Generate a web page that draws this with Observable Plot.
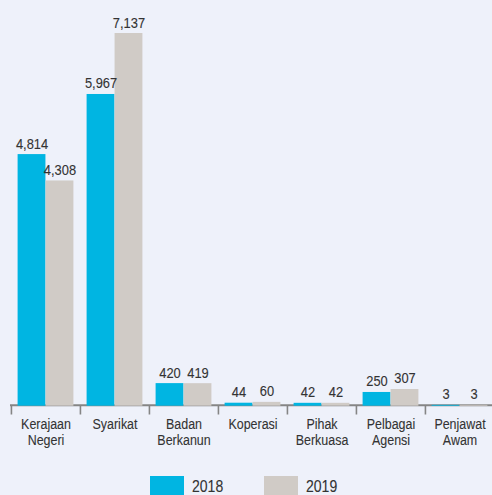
<!DOCTYPE html>
<html><head><meta charset="utf-8">
<script src="https://cdn.jsdelivr.net/npm/d3@7"></script>
<script src="https://cdn.jsdelivr.net/npm/@observablehq/plot@0.6"></script>
<style>
html,body{margin:0;padding:0;background:#eef1fa;overflow:hidden;width:492px;height:495px;position:relative;}
#chart{position:absolute;left:0;top:0;width:492px;height:470px;overflow:hidden;}
#legend{position:absolute;left:0;top:476px;width:492px;height:19px;overflow:hidden;font-family:'Liberation Sans',Arial,sans-serif;color:#333;}
.sw{position:absolute;top:0;width:34px;height:22px;}
.lab{position:absolute;top:2px;font-size:16.5px;line-height:16px;transform:scaleX(0.85);transform-origin:0 0;white-space:nowrap;-webkit-text-stroke:0.1px #333;}
</style>
</head><body>
<div id="chart"></div>
<div id="legend"></div>
<script>
const categories = ["Kerajaan\nNegeri","Syarikat","Badan\nBerkanun","Koperasi","Pihak\nBerkuasa","Pelbagai\nAgensi","Penjawat\nAwam"];
const years = ["2018","2019"];
const values2018 = [4814,5967,420,44,42,250,3];
const values2019 = [4308,7137,419,60,42,307,3];
const colors = ["#00b5e2","#d0cbc6"];

const W = 494, H = 470, ML = 10, MR = 0, MT = 33, MB = 65;
const bw = (W - ML - MR) / categories.length;
const half = bw / 2, pad = 6.6;
const fmt = d3.format(",");
const font = "'Liberation Sans',Arial,sans-serif";
const ink = "#333";
const rows = [values2018, values2019].map(vals => categories.map((c, i) => ({c, v: vals[i]})));

const chart = Plot.plot({
  width: W, height: H, marginLeft: ML, marginRight: MR, marginTop: MT, marginBottom: MB,
  x: {domain: categories, padding: 0, axis: null},
  y: {domain: [0, d3.max([...values2018, ...values2019])], axis: null},
  style: {background: "transparent", maxWidth: "none", fontFamily: font, fontSize: "14px", color: ink, overflow: "visible"},
  marks: [
    Plot.ruleY([0], {stroke: "#858585", strokeWidth: 2, dy: -0.3}),
    Plot.axisX({tickSize: 9.5, dx: -half, tickFormat: () => "", stroke: "#858585", strokeWidth: 1.6, label: null}),
    Plot.barY(rows[0], {x: "c", y: "v", fill: colors[0], insetLeft: pad, insetRight: half, insetBottom: -0.7}),
    Plot.barY(rows[1], {x: "c", y: "v", fill: colors[1], insetLeft: half, insetRight: pad, insetBottom: -0.7}),
    Plot.text(rows[0], {x: "c", y: "v", text: d => fmt(d.v), dx: -(half - pad) / 2, dy: -6, lineAnchor: "bottom", fontSize: 15, fill: ink, stroke: ink, strokeWidth: 0.12}),
    Plot.text(rows[1], {x: "c", y: "v", text: d => fmt(d.v), dx: (half - pad) / 2, dy: -6, lineAnchor: "bottom", fontSize: 15, fill: ink, stroke: ink, strokeWidth: 0.12}),
    Plot.text(categories, {x: d => d, frameAnchor: "bottom", text: d => d, lineAnchor: "top", dy: 12.5, lineHeight: 1.13, fontSize: 14, fill: ink, stroke: ink, strokeWidth: 0.1})
  ]
});
// condense the text horizontally to match the narrow typeface
d3.select(chart).selectAll("g[aria-label='text']").each(function() {
  const g = d3.select(this);
  const k = g.attr("font-size") == "15" ? 0.86 : 0.89;
  g.selectAll("text").attr("transform", function() {
    return (this.getAttribute("transform") || "") + ` scale(${k},1)`;
  });
});
document.getElementById("chart").appendChild(chart);

const legend = document.getElementById("legend");
const swX = [150, 264], labX = [192, 306];
years.forEach((y, i) => {
  const s = document.createElement("div");
  s.className = "sw"; s.style.left = swX[i] + "px"; s.style.background = colors[i];
  legend.appendChild(s);
  const t = document.createElement("div");
  t.className = "lab"; t.style.left = labX[i] + "px"; t.textContent = y;
  legend.appendChild(t);
});
</script>
</body></html>
